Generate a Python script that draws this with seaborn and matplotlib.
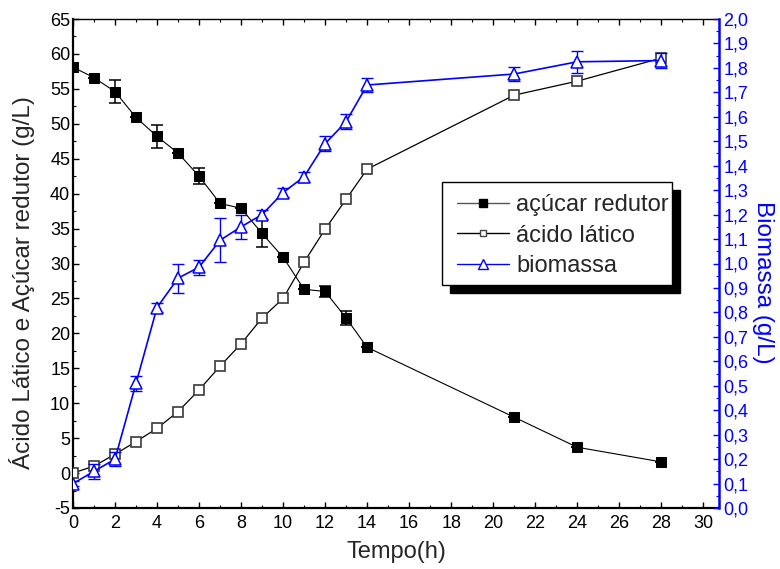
import matplotlib
matplotlib.use("Agg")
import matplotlib.pyplot as plt
import numpy as np
import pandas as pd
import seaborn as sns
from matplotlib.lines import Line2D
from matplotlib.patches import Rectangle
from matplotlib.ticker import MultipleLocator

# ---------------- data ----------------
tempo = [0, 1, 2, 3, 4, 5, 6, 7, 8, 9, 10, 11, 12, 13, 14, 21, 24, 28]
acucar = [58.1, 56.6, 54.6, 50.9, 48.2, 45.8, 42.5, 38.6, 37.9, 34.3, 30.9,
          26.3, 26.0, 22.2, 18.0, 8.0, 3.7, 1.6]
acucar_err = [0, 0, 1.6, 0, 1.6, 0, 1.1, 0, 0, 2.0, 0, 0, 0.8, 1.0, 0, 0, 0, 0]
acido = [0.0, 1.0, 2.7, 4.5, 6.4, 8.8, 11.9, 15.3, 18.5, 22.2, 25.0,
         30.2, 34.9, 39.2, 43.5, 54.1, 56.1, 59.4]
biomassa = [0.10, 0.15, 0.20, 0.51, 0.82, 0.94, 0.985, 1.095, 1.15, 1.20, 1.29,
            1.355, 1.49, 1.58, 1.73, 1.775, 1.825, 1.83]
biomassa_err = [0.01, 0.03, 0.03, 0.03, 0.02, 0.06, 0.03, 0.09, 0.05, 0.02, 0.02,
                0.02, 0.03, 0.03, 0.03, 0.03, 0.045, 0.03]

legend_labels = ["açúcar redutor", "ácido lático", "biomassa"]
x_ticks = list(range(0, 31, 2))
x_ticklabels = [str(v) for v in x_ticks]
y_ticks = list(range(-5, 66, 5))
y_ticklabels = [str(v) for v in y_ticks]
y2_ticks = [i / 10 for i in range(0, 21)]
y2_ticklabels = ["0,0", "0,1", "0,2", "0,3", "0,4", "0,5", "0,6", "0,7", "0,8", "0,9",
                 "1,0", "1,1", "1,2", "1,3", "1,4", "1,5", "1,6", "1,7", "1,8", "1,9", "2,0"]

# ---------------- style ----------------
sns.set_theme(style="ticks")
plt.rcParams["font.family"] = ["Liberation Sans", "DejaVu Sans"]
plt.rcParams["axes.unicode_minus"] = False

W, H = 780, 569
fig = plt.figure(figsize=(W / 100, H / 100), dpi=100)
L, R, T, B = 73, 719, 19, 508
ax = fig.add_axes([L / W, 1 - B / H, (R - L) / W, (B - T) / H])

df = pd.DataFrame({"Tempo": tempo, "acucar": acucar, "acido": acido, "biomassa": biomassa})

BLUE = "#0000ff"

# sugar (filled squares)
ax.errorbar(tempo, acucar, yerr=acucar_err, fmt="none", ecolor="black",
            elinewidth=1.1, capsize=4, capthick=1.1, zorder=2)
sns.lineplot(data=df, x="Tempo", y="acucar", ax=ax, color="black", linewidth=0.8,
             marker="s", markersize=7.5, markerfacecolor="black",
             markeredgecolor="black", zorder=3)
# lactic acid (open squares)
sns.lineplot(data=df, x="Tempo", y="acido", ax=ax, color="black", linewidth=0.9,
             marker="s", markersize=6.8, markerfacecolor="white",
             markeredgecolor="#3a3a3a", markeredgewidth=1.2, zorder=3)

ax.set_xlim(0, 30.75)
ax.set_ylim(-5, 65)
ax.set_xticks(x_ticks)
ax.set_xticklabels(x_ticklabels)
ax.set_yticks(y_ticks)
ax.set_yticklabels(y_ticklabels)
ax.xaxis.set_minor_locator(MultipleLocator(1))
ax.yaxis.set_minor_locator(MultipleLocator(2.5))
ax.tick_params(axis="both", which="both", direction="in", colors="black",
               top=True, right=False)
ax.tick_params(axis="both", which="major", length=4, width=1, labelsize=13)
ax.tick_params(axis="both", which="minor", length=2.5, width=0.8)
ax.tick_params(axis="x", which="major", pad=5)
ax.tick_params(axis="y", which="major", pad=2)
for s in ["left", "bottom"]:
    ax.spines[s].set_linewidth(1.6)
    ax.spines[s].set_color("black")
ax.spines["top"].set_linewidth(1.0)
ax.spines["top"].set_color("black")
ax.spines["right"].set_visible(False)
ax.set_xlabel("Tempo(h)", fontsize=17, va="center")
ax.set_ylabel("Ácido Lático e Açúcar redutor (g/L)", fontsize=17.5, va="center")
ax.xaxis.set_label_coords(0.5, -0.09)
ax.yaxis.set_label_coords(-0.079, 0.462)

# biomass on twin axis
ax2 = ax.twinx()
ax2.errorbar(tempo, biomassa, yerr=biomassa_err, fmt="none", ecolor=BLUE,
             elinewidth=1.0, capsize=4, capthick=1.0, zorder=2)
sns.lineplot(data=df, x="Tempo", y="biomassa", ax=ax2, color=BLUE, linewidth=1.2,
             marker="^", markersize=9, markerfacecolor="white",
             markeredgecolor=BLUE, markeredgewidth=1.1, zorder=3)
ax2.set_ylim(0, 2.0)
ax2.set_yticks(y2_ticks)
ax2.set_yticklabels(y2_ticklabels)
ax2.yaxis.set_minor_locator(MultipleLocator(0.05))
ax2.tick_params(axis="y", which="both", direction="in", colors=BLUE, labelcolor=BLUE)
ax2.tick_params(axis="y", which="major", length=4, width=1, labelsize=13, pad=3)
ax2.tick_params(axis="y", which="minor", length=2.5, width=0.8)
for s in ["left", "top", "bottom"]:
    ax2.spines[s].set_visible(False)
ax2.spines["right"].set_color(BLUE)
ax2.spines["right"].set_linewidth(1.8)
ax2.set_ylabel("Biomassa (g/L)", fontsize=17.5, color=BLUE, rotation=-90,
               va="center", ha="center")
ax2.yaxis.set_label_coords(1.068, 0.462)

# legend with box and black drop shadow
bx0, by0, bx1, by1 = 442, 182, 672, 285
off = 8
fig.patches.append(Rectangle(((bx0 + off) / W, 1 - (by1 + off) / H), (bx1 - bx0) / W,
                             (by1 - by0) / H, transform=fig.transFigure,
                             facecolor="black", edgecolor="black", zorder=2))
fig.patches.append(Rectangle((bx0 / W, 1 - by1 / H), (bx1 - bx0) / W, (by1 - by0) / H,
                             transform=fig.transFigure, facecolor="white",
                             edgecolor="black", linewidth=1.0, zorder=3))
handles = [
    Line2D([], [], color="#555555", lw=1.0, marker="s", markersize=6,
           markerfacecolor="black", markeredgecolor="black"),
    Line2D([], [], color="black", lw=1.0, marker="s", markersize=5,
           markerfacecolor="white", markeredgecolor="#444444"),
    Line2D([], [], color=BLUE, lw=1.0, marker="^", markersize=6.5,
           markerfacecolor="white", markeredgecolor=BLUE),
]
leg = fig.legend(handles, legend_labels, loc="upper left",
                 bbox_to_anchor=(457 / W, 1 - 194 / H), frameon=False, fontsize=17,
                 handlelength=2.2, handletextpad=0.3, labelspacing=0.36,
                 borderpad=0, borderaxespad=0)
leg.set_zorder(5)

fig.savefig("out.png", dpi=100)
